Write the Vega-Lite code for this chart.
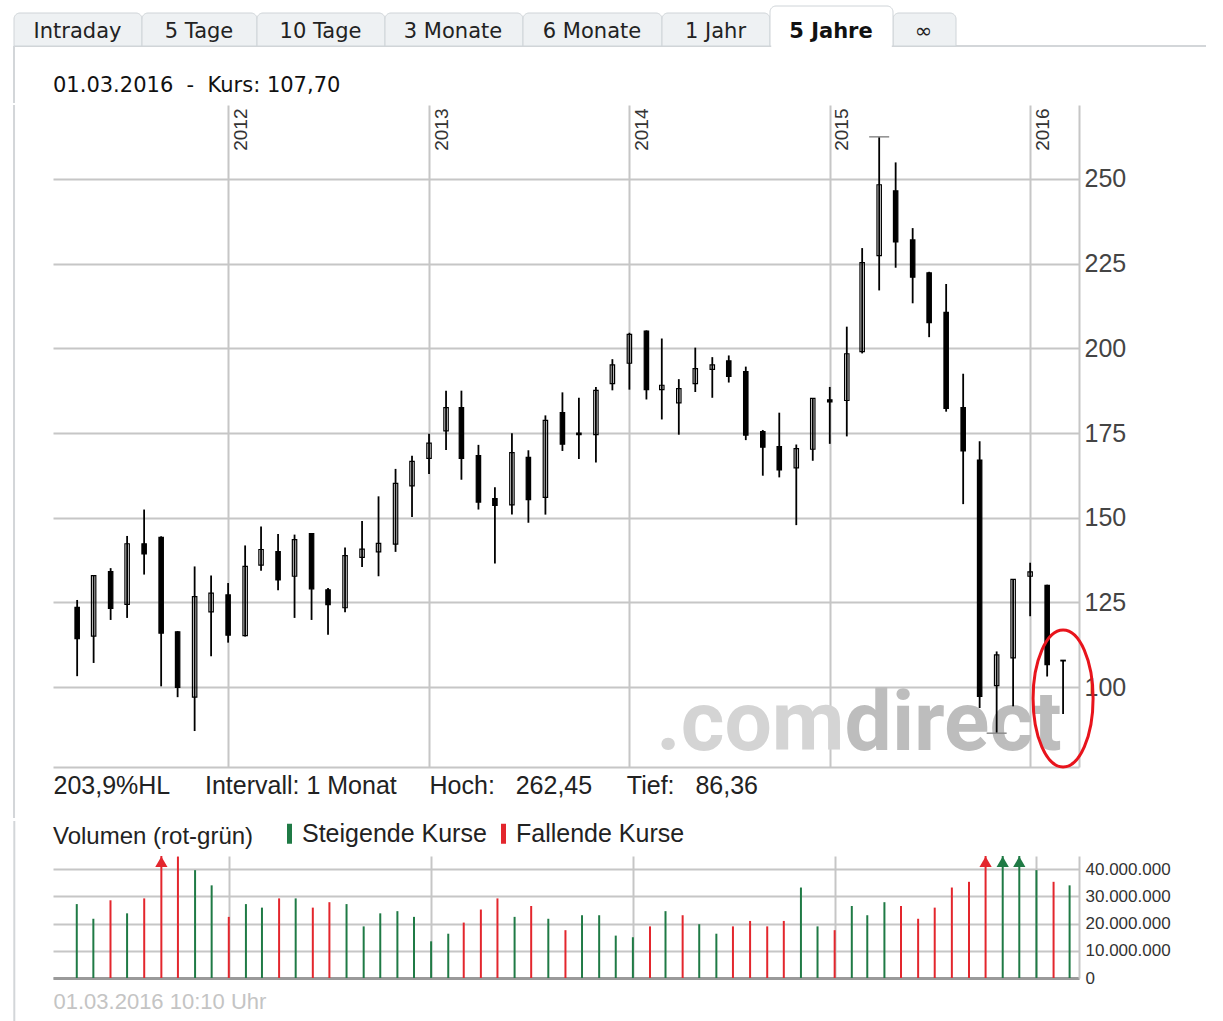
{
  "$schema": "https://vega.github.io/schema/vega-lite/v6.json",
  "padding": {"left": 13, "top": 5, "right": 0, "bottom": 0},
  "autosize": {"type": "pad"},
  "background": "white",
  "spacing": 0,
  "resolve": {"scale": {"color": "independent"}, "legend": {"color": "independent"}},
  "config": {"view": {"stroke": null}, "font": "Liberation Sans"},
  "datasets": {
    "tabs": [
      {"tab": "Intraday", "i": 0, "j": 1, "sel": false},
      {"tab": "5 Tage", "i": 1, "j": 2, "sel": false},
      {"tab": "10 Tage", "i": 2, "j": 3, "sel": false},
      {"tab": "3 Monate", "i": 3, "j": 4, "sel": false},
      {"tab": "6 Monate", "i": 4, "j": 5, "sel": false},
      {"tab": "1 Jahr", "i": 5, "j": 6, "sel": false},
      {"tab": "5 Jahre", "i": 6, "j": 7, "sel": true},
      {"tab": "∞", "i": 7, "j": 8, "sel": false}
    ],
    "kurse": [
      {"date": "2011-04-01", "open": 123.5, "high": 125.7, "low": 103.2, "close": 114.3, "vol": 27200000, "trend": "Steigende Kurse"},
      {"date": "2011-05-01", "open": 115.0, "high": 133.0, "low": 107.1, "close": 132.9, "vol": 21800000, "trend": "Steigende Kurse"},
      {"date": "2011-06-01", "open": 134.1, "high": 135.1, "low": 119.8, "close": 123.2, "vol": 28600000, "trend": "Fallende Kurse"},
      {"date": "2011-07-01", "open": 124.4, "high": 144.6, "low": 120.4, "close": 142.3, "vol": 23800000, "trend": "Steigende Kurse"},
      {"date": "2011-08-01", "open": 142.3, "high": 152.4, "low": 133.2, "close": 139.3, "vol": 29300000, "trend": "Fallende Kurse"},
      {"date": "2011-09-01", "open": 144.2, "high": 144.5, "low": 100.2, "close": 115.9, "vol": 52000000, "trend": "Fallende Kurse"},
      {"date": "2011-10-01", "open": 116.3, "high": 116.5, "low": 97.0, "close": 99.9, "vol": 44700000, "trend": "Fallende Kurse"},
      {"date": "2011-11-01", "open": 97.0, "high": 135.6, "low": 87.0, "close": 126.7, "vol": 39700000, "trend": "Steigende Kurse"},
      {"date": "2011-12-01", "open": 122.2, "high": 132.9, "low": 109.1, "close": 127.7, "vol": 34100000, "trend": "Steigende Kurse"},
      {"date": "2012-01-01", "open": 127.2, "high": 130.7, "low": 113.1, "close": 115.3, "vol": 22500000, "trend": "Fallende Kurse"},
      {"date": "2012-02-01", "open": 115.2, "high": 141.8, "low": 114.9, "close": 135.6, "vol": 27200000, "trend": "Steigende Kurse"},
      {"date": "2012-03-01", "open": 136.0, "high": 147.4, "low": 134.3, "close": 140.6, "vol": 25900000, "trend": "Steigende Kurse"},
      {"date": "2012-04-01", "open": 140.0, "high": 145.2, "low": 128.6, "close": 131.6, "vol": 29300000, "trend": "Fallende Kurse"},
      {"date": "2012-05-01", "open": 132.7, "high": 145.0, "low": 120.4, "close": 143.5, "vol": 29300000, "trend": "Steigende Kurse"},
      {"date": "2012-06-01", "open": 145.3, "high": 145.4, "low": 119.8, "close": 129.0, "vol": 25900000, "trend": "Fallende Kurse"},
      {"date": "2012-07-01", "open": 128.7, "high": 129.2, "low": 115.4, "close": 124.3, "vol": 27900000, "trend": "Fallende Kurse"},
      {"date": "2012-08-01", "open": 123.4, "high": 141.2, "low": 122.1, "close": 138.8, "vol": 27200000, "trend": "Steigende Kurse"},
      {"date": "2012-09-01", "open": 138.3, "high": 149.0, "low": 135.4, "close": 140.7, "vol": 19000000, "trend": "Steigende Kurse"},
      {"date": "2012-10-01", "open": 139.9, "high": 156.3, "low": 132.7, "close": 142.4, "vol": 23800000, "trend": "Steigende Kurse"},
      {"date": "2012-11-01", "open": 142.2, "high": 164.4, "low": 139.9, "close": 160.1, "vol": 24600000, "trend": "Steigende Kurse"},
      {"date": "2012-12-01", "open": 159.4, "high": 168.3, "low": 150.2, "close": 166.6, "vol": 22500000, "trend": "Steigende Kurse"},
      {"date": "2013-01-01", "open": 167.5, "high": 174.8, "low": 162.9, "close": 172.0, "vol": 13500000, "trend": "Steigende Kurse"},
      {"date": "2013-02-01", "open": 175.6, "high": 187.5, "low": 170.0, "close": 182.5, "vol": 16300000, "trend": "Steigende Kurse"},
      {"date": "2013-03-01", "open": 182.5, "high": 187.5, "low": 161.2, "close": 167.5, "vol": 20400000, "trend": "Fallende Kurse"},
      {"date": "2013-04-01", "open": 168.3, "high": 171.5, "low": 152.4, "close": 154.6, "vol": 25200000, "trend": "Fallende Kurse"},
      {"date": "2013-05-01", "open": 155.6, "high": 159.0, "low": 136.5, "close": 153.6, "vol": 29300000, "trend": "Fallende Kurse"},
      {"date": "2013-06-01", "open": 153.8, "high": 174.9, "low": 150.9, "close": 169.2, "vol": 22500000, "trend": "Steigende Kurse"},
      {"date": "2013-07-01", "open": 167.8, "high": 169.9, "low": 148.5, "close": 155.3, "vol": 26500000, "trend": "Fallende Kurse"},
      {"date": "2013-08-01", "open": 156.0, "high": 180.2, "low": 150.9, "close": 178.7, "vol": 21800000, "trend": "Steigende Kurse"},
      {"date": "2013-09-01", "open": 181.0, "high": 187.0, "low": 169.7, "close": 171.7, "vol": 17600000, "trend": "Fallende Kurse"},
      {"date": "2013-10-01", "open": 175.0, "high": 185.4, "low": 167.3, "close": 174.5, "vol": 23100000, "trend": "Steigende Kurse"},
      {"date": "2013-11-01", "open": 174.5, "high": 188.6, "low": 166.3, "close": 187.6, "vol": 23100000, "trend": "Steigende Kurse"},
      {"date": "2013-12-01", "open": 189.6, "high": 196.8, "low": 187.6, "close": 195.1, "vol": 15600000, "trend": "Steigende Kurse"},
      {"date": "2014-01-01", "open": 195.6, "high": 204.6, "low": 187.8, "close": 204.1, "vol": 15000000, "trend": "Steigende Kurse"},
      {"date": "2014-02-01", "open": 205.1, "high": 205.3, "low": 184.9, "close": 187.8, "vol": 19000000, "trend": "Fallende Kurse"},
      {"date": "2014-03-01", "open": 187.8, "high": 202.9, "low": 179.0, "close": 189.1, "vol": 24600000, "trend": "Steigende Kurse"},
      {"date": "2014-04-01", "open": 183.9, "high": 190.9, "low": 174.5, "close": 188.1, "vol": 23100000, "trend": "Fallende Kurse"},
      {"date": "2014-05-01", "open": 189.6, "high": 200.2, "low": 187.1, "close": 194.0, "vol": 19800000, "trend": "Steigende Kurse"},
      {"date": "2014-06-01", "open": 193.8, "high": 197.4, "low": 185.4, "close": 195.1, "vol": 16300000, "trend": "Steigende Kurse"},
      {"date": "2014-07-01", "open": 196.3, "high": 197.9, "low": 189.9, "close": 191.7, "vol": 19000000, "trend": "Fallende Kurse"},
      {"date": "2014-08-01", "open": 193.1, "high": 194.6, "low": 172.9, "close": 174.4, "vol": 21000000, "trend": "Fallende Kurse"},
      {"date": "2014-09-01", "open": 175.4, "high": 175.9, "low": 162.4, "close": 170.8, "vol": 19000000, "trend": "Fallende Kurse"},
      {"date": "2014-10-01", "open": 171.0, "high": 181.0, "low": 161.9, "close": 164.1, "vol": 21000000, "trend": "Fallende Kurse"},
      {"date": "2014-11-01", "open": 164.7, "high": 171.6, "low": 147.8, "close": 170.4, "vol": 33300000, "trend": "Steigende Kurse"},
      {"date": "2014-12-01", "open": 170.2, "high": 185.2, "low": 166.8, "close": 185.2, "vol": 19000000, "trend": "Steigende Kurse"},
      {"date": "2015-01-01", "open": 184.8, "high": 188.6, "low": 171.8, "close": 184.2, "vol": 17600000, "trend": "Fallende Kurse"},
      {"date": "2015-02-01", "open": 184.6, "high": 206.4, "low": 174.0, "close": 198.4, "vol": 26500000, "trend": "Steigende Kurse"},
      {"date": "2015-03-01", "open": 199.0, "high": 229.6, "low": 198.5, "close": 225.3, "vol": 23100000, "trend": "Steigende Kurse"},
      {"date": "2015-04-01", "open": 227.4, "high": 262.45, "low": 217.1, "close": 248.3, "vol": 27900000, "trend": "Steigende Kurse"},
      {"date": "2015-05-01", "open": 246.5, "high": 254.9, "low": 223.8, "close": 231.4, "vol": 26500000, "trend": "Fallende Kurse"},
      {"date": "2015-06-01", "open": 232.0, "high": 235.5, "low": 213.3, "close": 221.0, "vol": 21800000, "trend": "Fallende Kurse"},
      {"date": "2015-07-01", "open": 222.3, "high": 222.6, "low": 203.3, "close": 207.6, "vol": 25900000, "trend": "Fallende Kurse"},
      {"date": "2015-08-01", "open": 210.6, "high": 219.0, "low": 181.3, "close": 182.3, "vol": 33300000, "trend": "Fallende Kurse"},
      {"date": "2015-09-01", "open": 182.5, "high": 192.5, "low": 154.0, "close": 169.7, "vol": 35400000, "trend": "Fallende Kurse"},
      {"date": "2015-10-01", "open": 167.0, "high": 172.6, "low": 93.8, "close": 97.2, "vol": 58000000, "trend": "Fallende Kurse"},
      {"date": "2015-11-01", "open": 100.4, "high": 110.5, "low": 86.36, "close": 109.5, "vol": 50000000, "trend": "Steigende Kurse"},
      {"date": "2015-12-01", "open": 108.6, "high": 131.8, "low": 94.3, "close": 131.8, "vol": 48000000, "trend": "Steigende Kurse"},
      {"date": "2016-01-01", "open": 132.7, "high": 136.7, "low": 120.9, "close": 134.0, "vol": 39700000, "trend": "Steigende Kurse"},
      {"date": "2016-02-01", "open": 130.0, "high": 130.2, "low": 103.1, "close": 106.6, "vol": 35400000, "trend": "Fallende Kurse"},
      {"date": "2016-03-01", "open": 107.9, "high": 108.0, "low": 92.0, "close": 107.7, "vol": 34100000, "trend": "Steigende Kurse"}
    ]
  },
  "vconcat": [
    {
      "width": 1026,
      "height": 97,
      "data": {"name": "tabs"},
      "resolve": {"scale": {"x": "independent"}},
      "layer": [
        {
          "data": {"values": [{"linie": "Reiterleiste"}]},
          "mark": {"type": "rule", "stroke": "#d3d6d9", "strokeWidth": 2},
          "encoding": {
            "x": {"datum": 0, "type": "quantitative", "axis": null, "scale": {"type": "linear", "zero": false, "nice": false, "domain": [0, 1, 2, 3, 4, 5, 6, 7, 8, 9], "range": [-39, 89, 204, 332, 470, 609, 717, 840, 903, 1153]}},
            "x2": {"datum": 9},
            "y": {"datum": 0, "type": "quantitative", "axis": null, "scale": {"domain": [-57, 40], "zero": false, "nice": false}}
          }
        },
        {
          "data": {"values": [{"linie": "Rahmen"}]},
          "mark": {"type": "rule", "stroke": "#d3d6d9", "strokeWidth": 2},
          "encoding": {
            "x": {"datum": 0, "type": "quantitative", "axis": null, "scale": {"type": "linear", "zero": false, "nice": false, "domain": [0, 1, 2, 3, 4, 5, 6, 7, 8, 9], "range": [-39, 89, 204, 332, 470, 609, 717, 840, 903, 1153]}},
            "y": {"datum": 0, "type": "quantitative", "axis": null, "scale": {"domain": [-57, 40], "zero": false, "nice": false}},
            "y2": {"datum": -57}
          }
        },
        {
          "transform": [{"filter": "!datum.sel"}],
          "mark": {"type": "rect", "fill": "#eef1f3", "stroke": "#cfd4d8", "strokeWidth": 1, "cornerRadiusTopLeft": 6, "cornerRadiusTopRight": 6},
          "encoding": {
            "x": {"field": "i", "type": "quantitative", "axis": null, "scale": {"type": "linear", "zero": false, "nice": false, "domain": [0, 1, 2, 3, 4, 5, 6, 7, 8, 9], "range": [-39, 89, 204, 332, 470, 609, 717, 840, 903, 1153]}},
            "x2": {"field": "j"},
            "y": {"datum": 33, "type": "quantitative", "axis": null, "scale": {"domain": [-57, 40], "zero": false, "nice": false}},
            "y2": {"datum": 0}
          }
        },
        {
          "transform": [{"filter": "datum.sel"}],
          "mark": {"type": "rect", "fill": "#ffffff", "stroke": "#cfd4d8", "strokeWidth": 1, "cornerRadiusTopLeft": 6, "cornerRadiusTopRight": 6},
          "encoding": {
            "x": {"field": "i", "type": "quantitative", "axis": null, "scale": {"type": "linear", "zero": false, "nice": false, "domain": [0, 1, 2, 3, 4, 5, 6, 7, 8, 9], "range": [-39, 89, 204, 332, 470, 609, 717, 840, 903, 1153]}},
            "x2": {"field": "j"},
            "y": {"datum": 40, "type": "quantitative", "axis": null, "scale": {"domain": [-57, 40], "zero": false, "nice": false}},
            "y2": {"datum": 0}
          }
        },
        {
          "data": {"values": [{"linie": "Abdeckung"}]},
          "mark": {"type": "rule", "stroke": "#ffffff", "strokeWidth": 2.5},
          "encoding": {
            "x": {"datum": 6.01, "type": "quantitative", "axis": null, "scale": {"type": "linear", "zero": false, "nice": false, "domain": [0, 1, 2, 3, 4, 5, 6, 7, 8, 9], "range": [-39, 89, 204, 332, 470, 609, 717, 840, 903, 1153]}},
            "x2": {"datum": 6.99},
            "y": {"datum": 0, "type": "quantitative", "axis": null, "scale": {"domain": [-57, 40], "zero": false, "nice": false}}
          }
        },
        {
          "transform": [{"filter": "!datum.sel"}],
          "mark": {"type": "text", "font": "DejaVu Sans", "fontSize": 21, "color": "#222222", "align": "center", "baseline": "alphabetic"},
          "encoding": {
            "x": {"field": "i", "type": "quantitative", "axis": null, "scale": {"type": "linear", "zero": false, "nice": false, "domain": [0, 1, 2, 3, 4, 5, 6, 7], "range": [24.5, 146, 267.5, 400, 539, 662.5, 778, 870.5]}},
            "y": {"datum": 8.5, "type": "quantitative", "axis": null, "scale": {"domain": [-57, 40], "zero": false, "nice": false}},
            "text": {"field": "tab"}
          }
        },
        {
          "transform": [{"filter": "datum.sel"}],
          "mark": {"type": "text", "font": "DejaVu Sans", "fontSize": 21, "fontWeight": "bold", "color": "#111111", "align": "center", "baseline": "alphabetic"},
          "encoding": {
            "x": {"field": "i", "type": "quantitative", "axis": null, "scale": {"type": "linear", "zero": false, "nice": false, "domain": [0, 1, 2, 3, 4, 5, 6, 7], "range": [24.5, 146, 267.5, 400, 539, 662.5, 778, 870.5]}},
            "y": {"datum": 8.5, "type": "quantitative", "axis": null, "scale": {"domain": [-57, 40], "zero": false, "nice": false}},
            "text": {"field": "tab"}
          }
        },
        {
          "data": {"values": [{"kopf": "01.03.2016\u00a0\u00a0-\u00a0\u00a0Kurs: 107,70"}]},
          "mark": {"type": "text", "font": "DejaVu Sans", "fontSize": 21, "color": "#111111", "align": "left", "baseline": "alphabetic"},
          "encoding": {
            "x": {"datum": 0.3047, "type": "quantitative", "axis": null, "scale": {"type": "linear", "zero": false, "nice": false, "domain": [0, 1, 2, 3, 4, 5, 6, 7, 8, 9], "range": [-39, 89, 204, 332, 470, 609, 717, 840, 903, 1153]}},
            "y": {"datum": -45.5, "type": "quantitative", "axis": null, "scale": {"domain": [-57, 40], "zero": false, "nice": false}},
            "text": {"field": "kopf"}
          }
        }
      ]
    },
    {
      "width": 1026,
      "height": 662,
      "data": {"name": "kurse"},
      "resolve": {"axis": {"x": "independent", "y": "independent"}},
      "layer": [
        {
          "data": {"values": [{"linie": "Rahmen"}]},
          "mark": {"type": "rule", "stroke": "#d3d6d9", "strokeWidth": 2},
          "encoding": {
            "x": {"datum": {"year": 2010, "month": 12, "date": 7}, "type": "temporal", "axis": null},
            "y": {"datum": 271.85, "type": "quantitative", "axis": null},
            "y2": {"datum": 61.32}
          }
        },
        {
          "data": {"values": [{"logo": ".com"}]},
          "mark": {"type": "text", "font": "Roboto", "fontWeight": "bold", "fontSize": 84, "color": "#d4d4d4", "align": "right", "baseline": "alphabetic"},
          "encoding": {
            "x": {"datum": {"year": 2015, "month": 1, "date": 28}, "type": "temporal", "axis": null},
            "y": {"datum": 81.4, "type": "quantitative", "axis": null},
            "text": {"field": "logo"}
          }
        },
        {
          "data": {"values": [{"logo": "direct"}]},
          "mark": {"type": "text", "font": "Roboto", "fontWeight": "bold", "fontSize": 84, "color": "#bdbdbd", "align": "left", "baseline": "alphabetic"},
          "encoding": {
            "x": {"datum": {"year": 2015, "month": 1, "date": 28}, "type": "temporal", "axis": null},
            "y": {"datum": 81.4, "type": "quantitative", "axis": null},
            "text": {"field": "logo"}
          }
        },
        {
          "mark": {"type": "rule", "color": "#000000", "strokeWidth": 1.8},
          "encoding": {
            "x": {
              "field": "date", "type": "temporal",
              "scale": {"domain": [{"year": 2011, "month": 2, "date": 16}, {"year": 2016, "month": 3, "date": 30}], "padding": 0},
              "axis": {"orient": "top", "values": [{"year": 2012, "month": 1, "date": 1}, {"year": 2013, "month": 1, "date": 1}, {"year": 2014, "month": 1, "date": 1}, {"year": 2015, "month": 1, "date": 1}, {"year": 2016, "month": 1, "date": 1}], "format": "%Y", "grid": true, "gridColor": "#c6c6c6", "gridWidth": 2, "domain": false, "ticks": false, "labelAngle": -90, "labelAlign": "right", "labelBaseline": "top", "labelPadding": -3, "labelOffset": 3, "labelFont": "Liberation Sans", "labelFontSize": 19, "labelColor": "#333333", "labelOverlap": false, "labelFlush": false, "minExtent": 0, "title": null}
            },
            "y": {
              "field": "low", "type": "quantitative",
              "scale": {"domain": [76.38, 271.85], "zero": false, "nice": false, "padding": 0},
              "axis": {"orient": "right", "values": [100, 125, 150, 175, 200, 225, 250], "grid": true, "gridColor": "#c6c6c6", "gridWidth": 2, "domain": true, "domainColor": "#c6c6c6", "domainWidth": 2, "ticks": false, "labelPadding": 5, "labelFont": "Liberation Sans", "labelFontSize": 25, "labelColor": "#444444", "labelOverlap": false, "title": null}
            },
            "y2": {"field": "high"}
          }
        },
        {
          "mark": {"type": "bar", "size": 4.4, "stroke": "#000000", "strokeWidth": 1.2},
          "encoding": {
            "x": {
              "field": "date", "type": "temporal",
              "axis": {"orient": "bottom", "grid": false, "labels": false, "ticks": false, "domain": true, "domainColor": "#c6c6c6", "domainWidth": 2, "minExtent": 0, "title": "203,9%HL\u00a0\u00a0\u00a0\u00a0\u00a0Intervall: 1 Monat\u00a0\u00a0\u00a0\u00a0\u2009Hoch:\u00a0\u00a0\u00a0262,45\u00a0\u00a0\u00a0\u00a0\u00a0Tief:\u00a0\u00a0\u00a086,36", "titleFont": "Liberation Sans", "titleFontSize": 25, "titleFontWeight": "normal", "titleColor": "#222222", "titleAnchor": "start", "titleAlign": "left", "titleBaseline": "alphabetic", "titlePadding": 26}
            },
            "y": {"field": "open", "type": "quantitative", "axis": null},
            "y2": {"field": "close"},
            "fill": {"condition": {"test": "datum.close < datum.open", "value": "#000000"}, "value": "transparent"}
          }
        },
        {
          "data": {"values": [{"date": "2015-04-01", "kurs": 262.45}, {"date": "2015-11-01", "kurs": 86.36}]},
          "mark": {"type": "tick", "orient": "horizontal", "size": 20, "thickness": 1.5, "color": "#8c8c8c", "opacity": 1},
          "encoding": {
            "x": {"field": "date", "type": "temporal", "axis": null},
            "y": {"field": "kurs", "type": "quantitative", "axis": null}
          }
        },
        {
          "data": {"values": [{"markierung": "aktuell"}]},
          "mark": {"type": "point", "shape": "M -0.438 0 A 0.438 1 0 1 1 0.438 0 A 0.438 1 0 1 1 -0.438 0 Z", "size": 18769, "filled": false, "stroke": "#e8141c", "strokeWidth": 3, "opacity": 1},
          "encoding": {
            "x": {"datum": {"year": 2016, "month": 3, "date": 1}, "type": "temporal", "axis": null},
            "y": {"datum": 96.6, "type": "quantitative", "axis": null}
          }
        }
      ]
    },
    {
      "width": 1026,
      "height": 122,
      "data": {"name": "kurse"},
      "resolve": {"axis": {"x": "independent", "y": "independent"}},
      "layer": [
        {
          "data": {"values": [{"linie": "Rahmen"}]},
          "mark": {"type": "rule", "stroke": "#d3d6d9", "strokeWidth": 2},
          "encoding": {
            "x": {"datum": {"year": 2010, "month": 12, "date": 9}, "type": "temporal", "axis": null},
            "y": {"datum": 57780000, "type": "quantitative", "axis": null},
            "y2": {"datum": -16200000}
          }
        },
        {
          "mark": {"type": "rule", "strokeWidth": 2, "clip": true},
          "encoding": {
            "x": {
              "field": "date", "type": "temporal",
              "scale": {"domain": [{"year": 2011, "month": 2, "date": 17}, {"year": 2016, "month": 3, "date": 18}], "padding": 0},
              "axis": {"orient": "bottom", "values": [{"year": 2012, "month": 1, "date": 1}, {"year": 2013, "month": 1, "date": 1}, {"year": 2014, "month": 1, "date": 1}, {"year": 2015, "month": 1, "date": 1}, {"year": 2016, "month": 1, "date": 1}], "grid": true, "gridColor": "#c6c6c6", "gridWidth": 2, "labels": false, "ticks": false, "domain": true, "domainColor": "#9a9a9a", "domainWidth": 3, "minExtent": 0, "title": "01.03.2016 10:10 Uhr", "titleFont": "Liberation Sans", "titleFontSize": 22, "titleFontWeight": "normal", "titleColor": "#c4c4c4", "titleAnchor": "start", "titleAlign": "left", "titleBaseline": "alphabetic", "titlePadding": 30}
            },
            "y": {
              "field": "vol", "type": "quantitative",
              "scale": {"domain": [0, 44900000], "zero": true, "nice": false, "padding": 0},
              "axis": {"orient": "right", "values": [0, 10000000, 20000000, 30000000, 40000000], "labelExpr": "datum.value == 0 ? '0' : format(datum.value / 1000000, 'd') + '.000.000'", "grid": true, "gridColor": "#c6c6c6", "gridWidth": 2, "domain": true, "domainColor": "#c6c6c6", "domainWidth": 2, "ticks": false, "labelPadding": 6, "labelFont": "Liberation Sans", "labelFontSize": 17, "labelColor": "#333333", "labelOverlap": false, "title": null}
            },
            "y2": {"datum": 0},
            "color": {
              "field": "trend", "type": "nominal",
              "scale": {"domain": ["Steigende Kurse", "Fallende Kurse"], "range": ["#1f7a45", "#e3262d"]},
              "legend": {"orient": "none", "legendX": 0, "legendY": -35, "direction": "horizontal", "title": "Volumen (rot-grün)", "titleOrient": "left", "titleFont": "Liberation Sans", "titleFontSize": 24, "titleFontWeight": "normal", "titleColor": "#222222", "titlePadding": 23, "titleLimit": 400, "labelFont": "Liberation Sans", "labelFontSize": 25, "labelColor": "#222222", "labelOffset": 0, "labelLimit": 400, "columnPadding": 4, "symbolType": "M0,-1L0,1", "symbolSize": 400, "symbolStrokeWidth": 5, "symbolOpacity": 1}
            }
          }
        },
        {
          "transform": [{"filter": "datum.vol > 44900000"}],
          "mark": {"type": "point", "shape": "triangle-up", "filled": true, "size": 150, "opacity": 1},
          "encoding": {
            "x": {"field": "date", "type": "temporal", "axis": null},
            "y": {"datum": 42800000, "type": "quantitative", "axis": null},
            "color": {"field": "trend", "type": "nominal", "legend": null}
          }
        }
      ]
    }
  ]
}
